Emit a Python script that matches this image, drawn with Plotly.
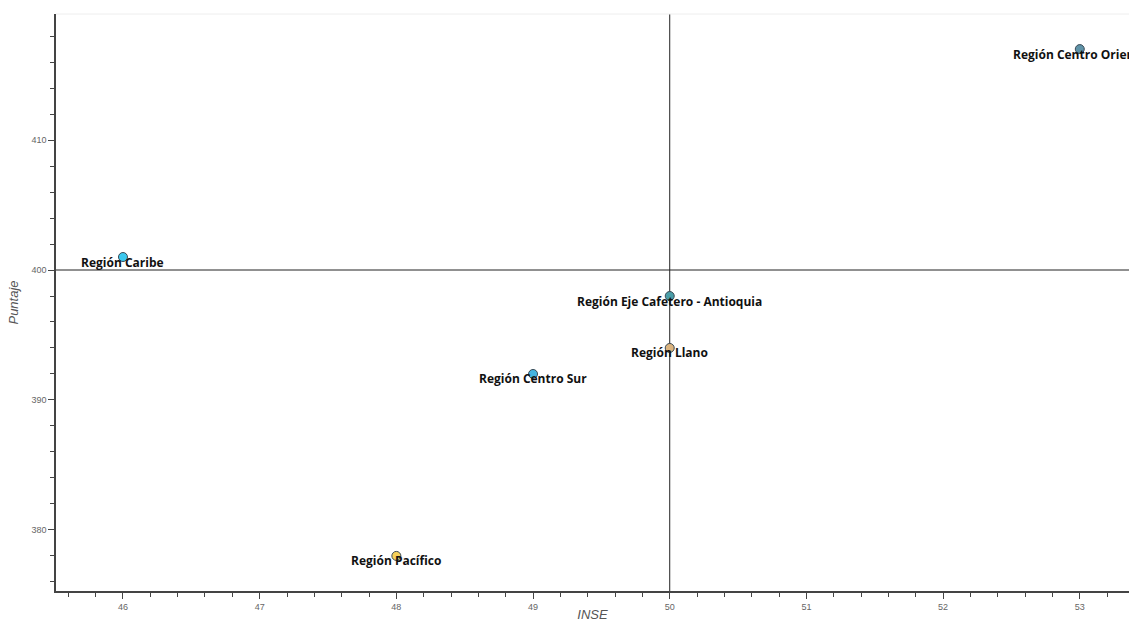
import plotly.graph_objects as go

regiones = ["Región Caribe", "Región Pacífico", "Región Centro Sur",
            "Región Eje Cafetero - Antioquia", "Región Llano", "Región Centro Oriente"]
inse = [46, 48, 49, 50, 50, 53]
puntaje = [401, 378, 392, 398, 394, 417]
colores = ["#3cc8ee", "#f5d05a", "#45b4e0", "#4a9ea8", "#dcb47e", "#5f93a8"]
ref_x = 50
ref_y = 400

fig = go.Figure()
fig.add_trace(go.Scatter(
    x=inse, y=puntaje, mode="markers",
    marker=dict(size=9, color=colores, line=dict(color="#3a4a55", width=1)),
    hoverinfo="text", text=regiones, showlegend=False, cliponaxis=False,
))

for r, xv, yv in zip(regiones, inse, puntaje):
    fig.add_annotation(x=xv, y=yv, text="<b>%s</b>" % r, showarrow=False,
                       yshift=-5, xanchor="center", yanchor="middle",
                       font=dict(family="Open Sans", size=12, color="#111111"))

fig.add_vline(x=ref_x, line=dict(color="#222222", width=1), layer="below")
fig.add_hline(y=ref_y, line=dict(color="#222222", width=1), layer="below")

# faint top border
fig.add_shape(type="line", xref="paper", yref="paper", x0=0, x1=1, y0=1, y1=1,
              line=dict(color="#eeeeee", width=1))

axis_common = dict(
    showgrid=False, zeroline=False, showline=True, linecolor="#444444", linewidth=1.5,
    ticks="outside", ticklen=6, tickwidth=1, tickcolor="#444444",
    tickfont=dict(family="Arial", size=9, color="#666666"), automargin=False,
)

fig.update_xaxes(
    range=[45.51, 53.36], dtick=1, tick0=0,
    minor=dict(dtick=0.2, ticks="outside", ticklen=4, tickcolor="#444444"),
    title=dict(text="<i>INSE</i>", font=dict(family="Arial", size=13, color="#555555"), standoff=6),
    **axis_common,
)
fig.update_yaxes(
    range=[375.3, 419.7], dtick=10, tick0=0,
    minor=dict(dtick=2, ticks="outside", ticklen=4, tickcolor="#444444"),
    title=dict(text="<i>Puntaje</i>", font=dict(family="Arial", size=13, color="#555555"), standoff=10),
    **axis_common,
)

fig.update_layout(
    width=1129, height=622,
    margin=dict(l=56, r=0, t=14, b=31, autoexpand=False),
    plot_bgcolor="white", paper_bgcolor="white",
)

fig.write_html("out.html", config={"displayModeBar": False},
               post_script="document.body.style.margin='0';document.body.style.overflow='hidden';")
